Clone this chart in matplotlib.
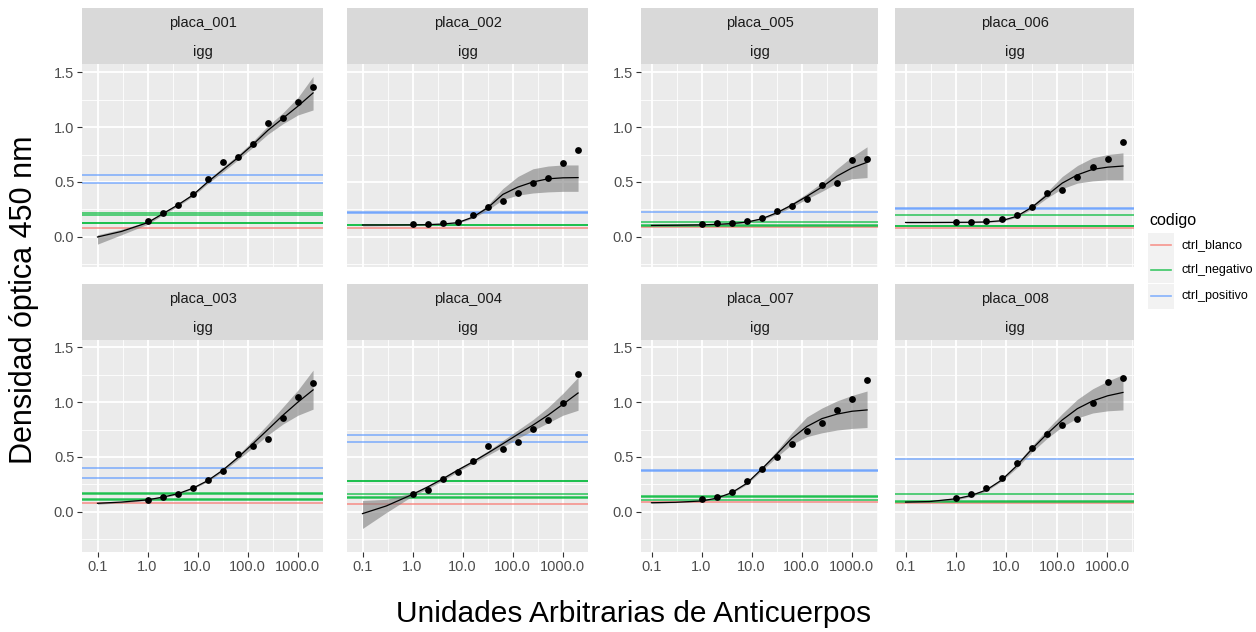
import matplotlib
matplotlib.use("Agg")
import matplotlib.pyplot as plt
from matplotlib.lines import Line2D
from matplotlib.patches import Rectangle
from matplotlib.ticker import FixedLocator, NullFormatter

plt.rcParams['font.family'] = ['Liberation Sans', 'DejaVu Sans']

PLACAS = ["placa_001", "placa_002", "placa_003", "placa_004",
          "placa_005", "placa_006", "placa_007", "placa_008"]
DOSIS = [1, 2, 4, 8, 16, 32, 64, 128, 256, 512, 1024, 2048]
CURVA_X = [0.1, 0.3, 1, 2, 4, 8, 16, 32, 64, 128, 256, 512, 1024, 2048]

X_TICKS = [0.1, 1, 10, 100, 1000]
X_LABELS = ["0.1", "1.0", "10.0", "100.0", "1000.0"]
Y_TICKS = [0.0, 0.5, 1.0, 1.5]
Y_LABELS = ["0.0", "0.5", "1.0", "1.5"]

# densidad óptica de los estándares
OD = {
    "placa_001": [0.145, 0.218, 0.29, 0.387, 0.526, 0.686, 0.726, 0.847, 1.037, 1.086, 1.228, 1.367],
    "placa_002": [0.115, 0.115, 0.124, 0.139, 0.197, 0.275, 0.327, 0.402, 0.493, 0.535, 0.671, 0.792],
    "placa_003": [0.112, 0.139, 0.164, 0.218, 0.291, 0.376, 0.524, 0.603, 0.661, 0.855, 1.048, 1.17],
    "placa_004": [0.16, 0.197, 0.303, 0.364, 0.464, 0.60, 0.576, 0.636, 0.752, 0.839, 0.991, 1.258],
    "placa_005": [0.114, 0.126, 0.126, 0.147, 0.177, 0.234, 0.283, 0.349, 0.475, 0.49, 0.70, 0.709],
    "placa_006": [0.138, 0.138, 0.144, 0.159, 0.20, 0.272, 0.398, 0.431, 0.542, 0.635, 0.713, 0.862],
    "placa_007": [0.114, 0.136, 0.184, 0.28, 0.395, 0.50, 0.62, 0.735, 0.81, 0.928, 1.03, 1.199],
    "placa_008": [0.13, 0.166, 0.217, 0.313, 0.446, 0.581, 0.711, 0.795, 0.843, 0.994, 1.18, 1.22],
}

# curva ajustada y banda de confianza
AJUSTE = {
    "placa_001": [0.0, 0.05, 0.13, 0.21, 0.29, 0.38, 0.50, 0.61, 0.72, 0.84, 0.97, 1.08, 1.19, 1.31],
    "placa_002": [0.109, 0.109, 0.11, 0.112, 0.118, 0.13, 0.18, 0.266, 0.387, 0.454, 0.50, 0.529, 0.538, 0.54],
    "placa_003": [0.079, 0.09, 0.11, 0.135, 0.165, 0.215, 0.285, 0.38, 0.494, 0.62, 0.75, 0.88, 1.0, 1.11],
    "placa_004": [-0.015, 0.055, 0.16, 0.227, 0.30, 0.38, 0.455, 0.536, 0.62, 0.706, 0.79, 0.88, 0.98, 1.082],
    "placa_005": [0.105, 0.107, 0.11, 0.115, 0.122, 0.135, 0.165, 0.22, 0.29, 0.37, 0.454, 0.553, 0.628, 0.679],
    "placa_006": [0.132, 0.132, 0.133, 0.134, 0.137, 0.148, 0.188, 0.27, 0.38, 0.49, 0.565, 0.615, 0.635, 0.645],
    "placa_007": [0.084, 0.088, 0.10, 0.125, 0.175, 0.26, 0.39, 0.527, 0.669, 0.777, 0.849, 0.89, 0.916, 0.928],
    "placa_008": [0.09, 0.095, 0.12, 0.15, 0.20, 0.29, 0.42, 0.572, 0.71, 0.837, 0.94, 1.01, 1.057, 1.087],
}
IC_BAJO = {
    "placa_001": [-0.065, 0.02, 0.115, 0.198, 0.278, 0.368, 0.485, 0.59, 0.70, 0.815, 0.935, 1.03, 1.11, 1.155],
    "placa_002": [0.10, 0.103, 0.105, 0.108, 0.113, 0.124, 0.17, 0.245, 0.34, 0.38, 0.40, 0.41, 0.415, 0.415],
    "placa_003": [0.07, 0.084, 0.104, 0.129, 0.159, 0.208, 0.277, 0.368, 0.475, 0.585, 0.70, 0.80, 0.88, 0.935],
    "placa_004": [-0.15, -0.005, 0.145, 0.21, 0.285, 0.365, 0.44, 0.515, 0.59, 0.67, 0.74, 0.81, 0.88, 0.925],
    "placa_005": [0.10, 0.102, 0.105, 0.11, 0.117, 0.129, 0.157, 0.208, 0.272, 0.345, 0.415, 0.49, 0.53, 0.54],
    "placa_006": [0.127, 0.128, 0.129, 0.13, 0.132, 0.142, 0.178, 0.255, 0.355, 0.44, 0.49, 0.51, 0.52, 0.52],
    "placa_007": [0.08, 0.085, 0.095, 0.12, 0.168, 0.25, 0.375, 0.50, 0.615, 0.685, 0.72, 0.745, 0.76, 0.768],
    "placa_008": [0.085, 0.09, 0.11, 0.14, 0.19, 0.28, 0.40, 0.545, 0.67, 0.775, 0.855, 0.90, 0.92, 0.928],
}
IC_ALTO = {
    "placa_001": [0.02, 0.07, 0.14, 0.222, 0.302, 0.392, 0.515, 0.635, 0.745, 0.87, 1.01, 1.13, 1.27, 1.46],
    "placa_002": [0.118, 0.115, 0.115, 0.116, 0.123, 0.136, 0.19, 0.29, 0.44, 0.55, 0.62, 0.645, 0.655, 0.655],
    "placa_003": [0.088, 0.096, 0.116, 0.141, 0.171, 0.222, 0.293, 0.392, 0.515, 0.655, 0.80, 0.955, 1.11, 1.29],
    "placa_004": [0.105, 0.115, 0.175, 0.24, 0.315, 0.395, 0.47, 0.555, 0.65, 0.745, 0.84, 0.95, 1.08, 1.225],
    "placa_005": [0.11, 0.112, 0.115, 0.12, 0.127, 0.141, 0.173, 0.232, 0.308, 0.395, 0.495, 0.62, 0.73, 0.82],
    "placa_006": [0.137, 0.136, 0.137, 0.138, 0.142, 0.154, 0.198, 0.285, 0.41, 0.55, 0.65, 0.72, 0.75, 0.765],
    "placa_007": [0.088, 0.091, 0.105, 0.13, 0.182, 0.27, 0.405, 0.555, 0.72, 0.865, 0.945, 1.01, 1.06, 1.10],
    "placa_008": [0.095, 0.10, 0.13, 0.16, 0.21, 0.30, 0.44, 0.60, 0.75, 0.895, 1.025, 1.12, 1.19, 1.25],
}

# controles de cada placa
CTRL_BLANCO = {
    "placa_001": [0.08], "placa_002": [0.08], "placa_003": [0.08], "placa_004": [0.076],
    "placa_005": [0.088], "placa_006": [0.084], "placa_007": [0.09], "placa_008": [0.084],
}
CTRL_NEGATIVO = {
    "placa_001": [0.22, 0.20, 0.13, 0.125],
    "placa_002": [0.105, 0.11],
    "placa_003": [0.172, 0.162, 0.12, 0.11],
    "placa_004": [0.285, 0.28, 0.16, 0.135, 0.13],
    "placa_005": [0.132, 0.105, 0.10],
    "placa_006": [0.20, 0.102, 0.097],
    "placa_007": [0.145, 0.137, 0.11],
    "placa_008": [0.16, 0.10, 0.095],
}
CTRL_POSITIVO = {
    "placa_001": [0.565, 0.49],
    "placa_002": [0.218, 0.226],
    "placa_003": [0.403, 0.312],
    "placa_004": [0.703, 0.636],
    "placa_005": [0.228],
    "placa_006": [0.253, 0.262],
    "placa_007": [0.37, 0.38],
    "placa_008": [0.485],
}

CODIGOS = ["ctrl_blanco", "ctrl_negativo", "ctrl_positivo"]
COLORES = {"ctrl_blanco": "#F8766D", "ctrl_negativo": "#00BA38", "ctrl_positivo": "#619CFF"}

W, H = 1256, 632
fig = plt.figure(figsize=(W / 100, H / 100), dpi=100)


def caja(x0, y0, x1, y1):
    return [x0 / W, 1 - y1 / H, (x1 - x0) / W, (y1 - y0) / H]


COLS = [(82, 323), (347, 588), (641, 878), (895, 1134)]
FILAS = [((8, 64), (64, 267), (-0.273, 1.573)),
         ((284, 340), (340, 552), (-0.364, 1.564))]
# (fila, columna) de cada placa
POS = {"placa_001": (0, 0), "placa_002": (0, 1), "placa_003": (1, 0), "placa_004": (1, 1),
       "placa_005": (0, 2), "placa_006": (0, 3), "placa_007": (1, 2), "placa_008": (1, 3)}

for placa in PLACAS:
    fila, col = POS[placa]
    (s0, s1), (p0, p1), ylim = FILAS[fila]
    x0, x1 = COLS[col]

    ax = fig.add_axes(caja(x0, p0, x1, p1))
    ax.set_facecolor("#EBEBEB")
    for s in ax.spines.values():
        s.set_visible(False)

    for codigo, tabla in zip(CODIGOS, [CTRL_BLANCO, CTRL_NEGATIVO, CTRL_POSITIVO]):
        for v in tabla[placa]:
            ax.axhline(v, color=COLORES[codigo], lw=1.2, alpha=0.75, zorder=2)

    ax.fill_between(CURVA_X, IC_BAJO[placa], IC_ALTO[placa], color="#7F7F7F",
                    alpha=0.6, lw=0, zorder=3)
    ax.plot(CURVA_X, AJUSTE[placa], color="black", lw=0.9, zorder=4)
    ax.scatter(DOSIS, OD[placa], s=24, color="black", lw=0, zorder=5)

    ax.set_xscale("log")
    if col < 2:
        ax.set_xlim(10 ** -1.31, 10 ** 3.51)
    else:
        ax.set_xlim(10 ** -1.21, 10 ** 3.53)
    ax.set_ylim(*ylim)

    ax.xaxis.set_major_locator(FixedLocator(X_TICKS))
    ax.xaxis.set_minor_locator(FixedLocator([10 ** -0.5, 10 ** 0.5, 10 ** 1.5, 10 ** 2.5, 10 ** 3.5]))
    ax.xaxis.set_minor_formatter(NullFormatter())
    ax.yaxis.set_major_locator(FixedLocator(Y_TICKS))
    ax.yaxis.set_minor_locator(FixedLocator([-0.25, 0.25, 0.75, 1.25]))
    ax.set_xticklabels(X_LABELS)
    ax.set_yticklabels(Y_LABELS)
    ax.grid(which="major", color="white", lw=1.3)
    ax.grid(which="minor", color="white", lw=0.6)
    ax.set_axisbelow(True)
    ax.tick_params(which="major", length=3.5, width=0.8, color="#333333",
                   labelcolor="#4D4D4D", labelsize=10.5, pad=2)
    ax.tick_params(which="minor", length=0)
    if fila == 0:
        ax.tick_params(axis="x", which="major", length=0, labelbottom=False)
    if col in (1, 3):
        ax.tick_params(axis="y", which="major", length=0, labelleft=False)

    # tira con el nombre de la placa y el anticuerpo
    st = fig.add_axes(caja(x0, s0, x1, s1))
    st.set_facecolor("#D9D9D9")
    st.set_xticks([])
    st.set_yticks([])
    for s in st.spines.values():
        s.set_visible(False)
    st.text(0.5, 0.73, placa, ha="center", va="center", fontsize=10.5, color="#1A1A1A")
    st.text(0.5, 0.22, "igg", ha="center", va="center", fontsize=10.5, color="#1A1A1A")

# leyenda
fig.text(1149 / W, 1 - 220 / H, "codigo", fontsize=11.5, color="black", va="center")
for i, codigo in enumerate(CODIGOS):
    yc = 245 + i * 25.5
    fig.add_artist(Rectangle((1148 / W, 1 - (yc + 12.5) / H), 26 / W, 25 / H,
                             transform=fig.transFigure, facecolor="#F2F2F2", lw=0))
    fig.add_artist(Line2D([1151 / W, 1171 / W], [1 - yc / H, 1 - yc / H],
                          transform=fig.transFigure, color=COLORES[codigo], lw=1.2, alpha=0.75))
    fig.text(1182 / W, 1 - yc / H, codigo, fontsize=9, color="black", va="center")

fig.text(634 / W, 1 - 614 / H, "Unidades Arbitrarias de Anticuerpos", fontsize=21.5,
         ha="center", va="center")
fig.text(24 / W, 1 - 300 / H, "Densidad óptica 450 nm", fontsize=22, rotation=90,
         ha="center", va="center")

fig.savefig("out.png", dpi=100, facecolor="white")
